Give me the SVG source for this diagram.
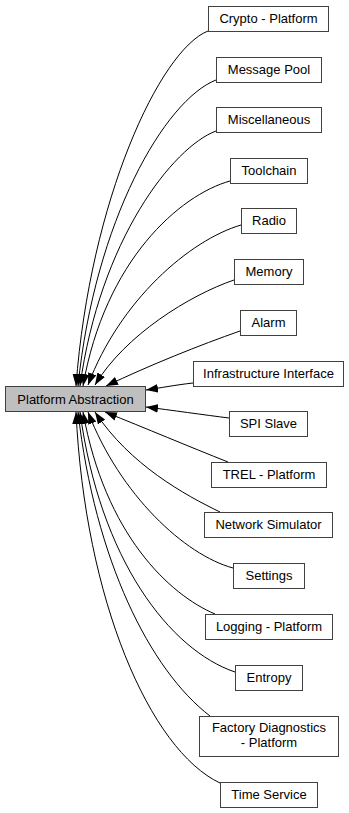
<svg xmlns="http://www.w3.org/2000/svg" width="349" height="813" viewBox="0 0 349 813">
  <defs>
    <marker id="head" markerUnits="userSpaceOnUse" markerWidth="12" markerHeight="9" refX="11" refY="4" orient="auto" viewBox="0 0 11 8">
      <path d="M0,0 L11,4 L0,8 z" fill="#000"/>
    </marker>
    <style>
      .node rect { fill: #ffffff; stroke: #404040; stroke-width: 1; }
      .node.main rect { fill: #bfbfbf; }
      .node text { font-family: "Liberation Sans", Arial, sans-serif; font-size: 13px; fill: #000; text-anchor: middle; }
      .edges path { fill: none; stroke: #000; stroke-width: 1; marker-end: url(#head); }
    </style>
  </defs>
  <rect width="349" height="813" fill="#ffffff"/>

  <!-- dependency edges, arrowheads pointing to the central module -->
  <g id="edges" class="edges">
    <path d="M208,31 C160,50 90,200 76,386"/>
    <path d="M216,80 C165,100 95,220 78,386"/>
    <path d="M216,131 C173,147 100,240 80,386"/>
    <path d="M230,181 C180,195 105,260 83,386"/>
    <path d="M241,225 C190,240 120,300 88,385"/>
    <path d="M234,280 C190,295 125,335 95,385"/>
    <path d="M240,331 C200,345 150,365 106,386"/>
    <path d="M193,383 C175,385 160,388 146,390"/>
    <path d="M229,418 C205,415 170,410 146,407"/>
    <path d="M228,462 C190,447 145,428 105,412"/>
    <path d="M220,512 C185,495 130,465 95,412"/>
    <path d="M233,568 C185,555 120,495 88,412"/>
    <path d="M215,614 C170,595 105,535 83,412"/>
    <path d="M235,672 C170,650 100,560 80,412"/>
    <path d="M210,716 C150,670 95,560 78,412"/>
    <path d="M220,783 C150,750 85,600 76,412"/>
  </g>

  <g id="platform-abstraction" class="node main">
    <rect x="5.5" y="386.5" width="140" height="25"/>
    <text x="75.5" y="403.5">Platform Abstraction</text>
  </g>

  <g id="crypto" class="node">
    <rect x="208.5" y="6.5" width="120" height="25"/>
    <text x="268.5" y="23">Crypto - Platform</text>
  </g>
  <g id="message-pool" class="node">
    <rect x="216.5" y="57.5" width="105" height="25"/>
    <text x="269" y="74">Message Pool</text>
  </g>
  <g id="misc" class="node">
    <rect x="216.5" y="107.5" width="105" height="25"/>
    <text x="269" y="124">Miscellaneous</text>
  </g>
  <g id="toolchain" class="node">
    <rect x="230.5" y="158.5" width="77" height="25"/>
    <text x="269" y="175">Toolchain</text>
  </g>
  <g id="radio" class="node">
    <rect x="241.5" y="208.5" width="55" height="25"/>
    <text x="269" y="225">Radio</text>
  </g>
  <g id="memory" class="node">
    <rect x="234.5" y="259.5" width="69" height="25"/>
    <text x="269" y="276">Memory</text>
  </g>
  <g id="alarm" class="node">
    <rect x="240.5" y="310.5" width="56" height="25"/>
    <text x="268.5" y="327">Alarm</text>
  </g>
  <g id="infra-if" class="node">
    <rect x="193.5" y="361.5" width="150" height="25"/>
    <text x="268.5" y="378">Infrastructure Interface</text>
  </g>
  <g id="spi-slave" class="node">
    <rect x="229.5" y="411.5" width="78" height="25"/>
    <text x="268.5" y="428">SPI Slave</text>
  </g>
  <g id="trel" class="node">
    <rect x="211.5" y="462.5" width="115" height="25"/>
    <text x="269" y="479">TREL - Platform</text>
  </g>
  <g id="network-simulator" class="node">
    <rect x="204.5" y="512.5" width="128" height="25"/>
    <text x="268.5" y="529">Network Simulator</text>
  </g>
  <g id="settings" class="node">
    <rect x="233.5" y="563.5" width="71" height="25"/>
    <text x="269" y="580">Settings</text>
  </g>
  <g id="logging" class="node">
    <rect x="205.5" y="614.5" width="127" height="25"/>
    <text x="269" y="631">Logging - Platform</text>
  </g>
  <g id="entropy" class="node">
    <rect x="235.5" y="665.5" width="67" height="25"/>
    <text x="269" y="682">Entropy</text>
  </g>
  <g id="factory-diag" class="node">
    <rect x="199.5" y="716.5" width="139" height="40"/>
    <text x="269" y="732">Factory Diagnostics</text>
    <text x="269" y="747">- Platform</text>
  </g>
  <g id="time-service" class="node">
    <rect x="220.5" y="782.5" width="97" height="25"/>
    <text x="269" y="799">Time Service</text>
  </g>
</svg>
